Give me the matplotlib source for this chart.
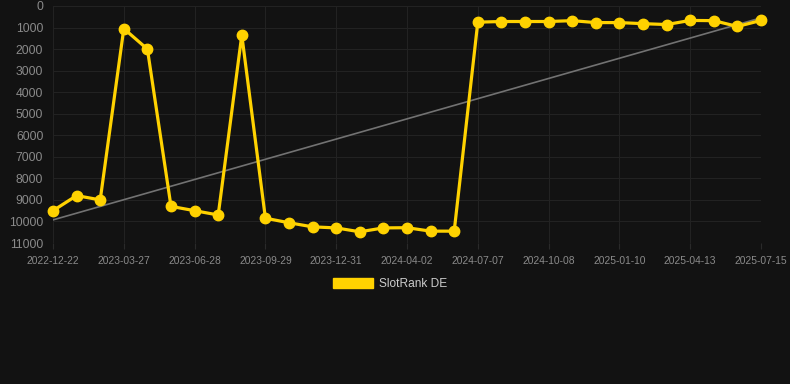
import matplotlib
matplotlib.use('Agg')
import matplotlib.pyplot as plt
import numpy as np

plt.rcParams['font.family'] = ['Liberation Sans', 'DejaVu Sans']

# SlotRank DE, one point per month, y axis is the rank (lower is better)
ranks = [9500, 8800, 9000, 1050, 2000, 9300, 9500, 9700, 1350, 9850,
         10060, 10250, 10300, 10480, 10300, 10290, 10450, 10450, 750, 720,
         720, 720, 680, 770, 770, 820, 860, 670, 680, 950, 670]
tick_labels = ['2022-12-22', '2023-03-27', '2023-06-28', '2023-09-29',
               '2023-12-31', '2024-04-02', '2024-07-07', '2024-10-08',
               '2025-01-10', '2025-04-13', '2025-07-15']
y_ticks = list(range(0, 11001, 1000))

bg = '#121212'
yellow = '#ffd200'
txt = '#8a8a8a'

x = np.arange(len(ranks))
slope, intercept = np.polyfit(x, ranks, 1)

fig = plt.figure(figsize=(7.9, 3.84), dpi=100, facecolor=bg)
ax = fig.add_axes([53 / 790, 141 / 384, 708 / 790, 237 / 384], facecolor=bg)

ax.plot(x, slope * x + intercept, color='#727272', lw=1.2, zorder=2)
ax.plot(x, ranks, color=yellow, lw=2.3, marker='o', ms=7.5,
        solid_joinstyle='miter', zorder=3, clip_on=False, label='SlotRank DE')

ax.set_xlim(0, len(ranks) - 1)
ax.set_ylim(11000, 0)
ax.set_yticks(y_ticks)
ax.set_yticklabels([str(v) for v in y_ticks])
ax.set_xticks(x[::3])
ax.set_xticklabels(tick_labels)

ax.grid(True, color='#222222', lw=0.8, zorder=0)
for s in ax.spines.values():
    s.set_visible(False)
ax.tick_params(axis='y', colors=txt, labelsize=8.8, length=0, pad=7)
ax.tick_params(axis='x', colors=txt, labelsize=7.4, length=4, width=0.8,
               color='#2a2a2a', pad=5)

leg = fig.legend(handles=[plt.Rectangle((0, 0), 1, 1, color=yellow)],
                 labels=['SlotRank DE'], loc='center', bbox_to_anchor=(390 / 790, 1 - 284 / 384),
                 frameon=False, handlelength=3.4, handleheight=1.0, fontsize=8.6,
                 handletextpad=0.5)
for t in leg.get_texts():
    t.set_color('#cccccc')

fig.savefig('out.png', dpi=100, facecolor=bg)
